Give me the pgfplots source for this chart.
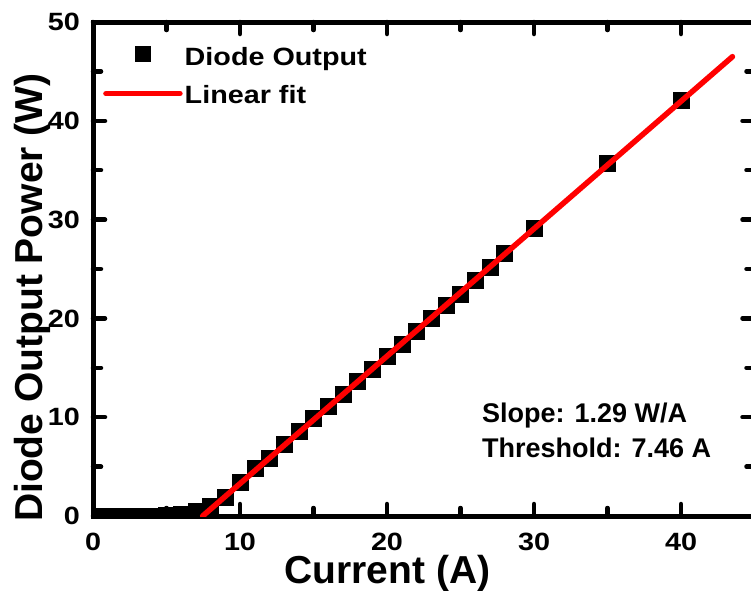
\documentclass[border=0pt]{standalone}
\usepackage{fontspec}
\setmainfont{Liberation Sans}
\newfontfamily\tickfont{Liberation Sans Bold}[FakeStretch=1.15]
\newfontfamily\boldfont{Liberation Sans Bold}
\usepackage{pgfplots}
\pgfplotsset{compat=1.18}
\newcommand\tkf{\tickfont\fontsize{25}{30}\selectfont}
\newcommand\lbf{\boldfont\fontsize{39}{45}\selectfont}
\newcommand\anf{\boldfont\fontsize{27}{32}\selectfont}
\pgfplotsset{
  markleg/.style={legend image code/.code={\draw[mark repeat=2,mark phase=2,##1,mark size=7.5pt] plot coordinates {(0pt,3pt) (37pt,3pt) (74pt,3pt)};}},
  lineleg/.style={legend image code/.code={\draw[##1] (0pt,2pt) -- (74pt,2pt);}},
}
\begin{document}
\begin{tikzpicture}
\useasboundingbox (0,0) rectangle (751pt,590pt);
\begin{axis}[
  at={(93pt,74pt)}, anchor=south west,
  scale only axis, width=661.5pt, height=494pt,
  xmin=0, xmax=45, ymin=0, ymax=50,
  xtick={0,10,20,30,40}, ytick={0,10,20,30,40,50},
  minor x tick num=1, minor y tick num=1,
  tick align=inside,
  clip marker paths=true,
  axis line style={line width=5pt},
  major tick style={line width=4.5pt, line cap=round, black},
  minor tick style={line width=4.5pt, line cap=round, black},
  major tick length=12pt, minor tick length=8pt,
  /pgf/number format/assume math mode=true,
  tick label style={font=\tkf, inner sep=0pt},
  xticklabel style={yshift=-17pt},
  yticklabel style={xshift=-13pt},
  xlabel={Current (A)}, ylabel={Diode Output Power (W)},
  xlabel style={font=\lbf, at={(axis description cs:0.445,-0.136)}, anchor=base, inner sep=0pt},
  ylabel style={font=\lbf, at={(axis description cs:-0.0756,0.442)}, anchor=base, inner sep=0pt},
  legend style={at={(axis description cs:0,1)}, anchor=north west, xshift=10pt, yshift=-23pt,
    draw=none, fill=none, font=\tkf, row sep=15pt, inner sep=0pt},
  legend cell align=left,
]
\addplot[only marks, mark=square*, mark size=8pt, black, markleg]
coordinates {
(0,0.0) (1,0.0) (2,0.01) (3,0.02) (4,0.03) (5,0.06) (6,0.18) (7,0.45)
(8,0.95) (9,1.9) (10,3.4) (11,4.8) (12,5.9) (13,7.3) (14,8.6) (15,9.9)
(16,11.1) (17,12.3) (18,13.6) (19,14.9) (20,16.2) (21,17.4) (22,18.7)
(23,20.0) (24,21.3) (25,22.5) (26,23.9) (27,25.2) (28,26.6)
(30,29.1) (35,35.7) (40,42.1)
};
\addlegendentry{Diode Output}
\addplot[red, line width=5.5pt, line cap=round, lineleg]
coordinates {(7.46,0) (43.5,46.49)};
\addlegendentry{Linear fit}
\node[anchor=base west, inner sep=0pt, font=\anf] at (rel axis cs:0.588,0.190) {Slope: 1.29 W/A};
\node[anchor=base west, inner sep=0pt, font=\anf] at (rel axis cs:0.588,0.119) {Threshold: 7.46 A};
\end{axis}
\end{tikzpicture}
\end{document}
